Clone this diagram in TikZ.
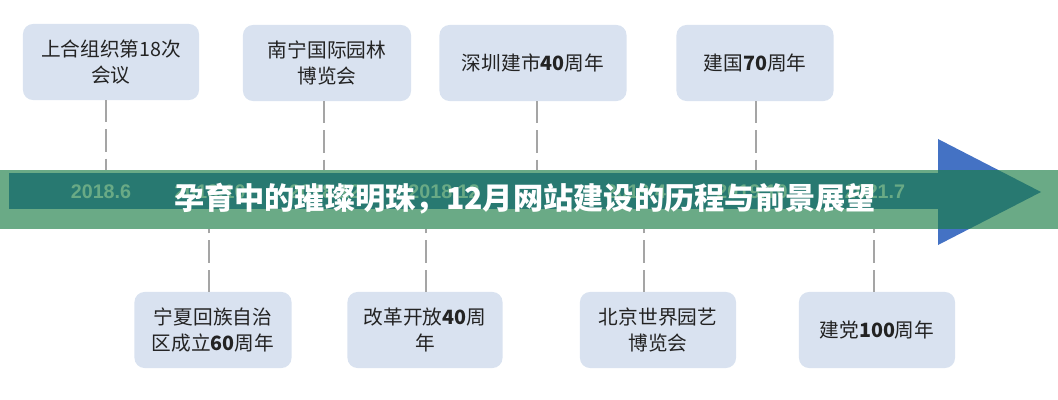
\documentclass[tikz,border=0pt]{standalone}
\usepackage{fontspec}
\usepackage{xcolor}
\usepackage{tikz}
\usetikzlibrary{positioning}
\setmainfont{Liberation Sans}
\newfontfamily\cjk{Noto Sans CJK SC}
\definecolor{myblue}{RGB}{68,114,196}
\definecolor{mygreen}{RGB}{26,125,69}
\definecolor{boxfill}{RGB}{217,226,240}
\definecolor{dashgray}{RGB}{165,165,165}
\definecolor{mydark}{RGB}{35,35,35}
\tikzset{
  eventbox/.style={rectangle, fill=boxfill, rounded corners=0.25cm,
    minimum height=1.9cm, align=center, inner sep=0pt, text=mydark,
    font=\cjk\fontsize{14}{18}\selectfont},
  dashline/.style={draw=dashgray, line width=1.4pt,
    dash pattern=on 0.55cm off 0.18cm},
  datelabel/.style={font=\bfseries\fontsize{14}{14}\selectfont, text=white},
  bandshade/.style={fill=mygreen, fill opacity=0.65},
  titletext/.style={font=\cjk\bfseries\fontsize{21.5}{21.5}\selectfont, text=white}
}

\begin{document}
\begin{tikzpicture}[x=0.025cm, y=-0.025cm]
  \useasboundingbox (0,0) rectangle (1058,400);

  % Events above the time line
  \node[eventbox, minimum width=4.4cm]   (t1) at (111,62) {上合组织第18次\\会议};
  \node[eventbox, minimum width=4.2cm]   (t2) at (327,63) {南宁国际园林\\博览会};
  \node[eventbox, minimum width=4.675cm] (t3) at (533,63) {深圳建市\textbf{40}周年};
  \node[eventbox, minimum width=3.925cm] (t4) at (755,63) {建国\textbf{70}周年};

  % Events below the time line
  \node[eventbox, minimum width=3.925cm] (b1) at (213,330) {宁夏回族自治\\区成立\textbf{60}周年};
  \node[eventbox, minimum width=3.875cm] (b2) at (425,330) {改革开放\textbf{40}周\\年};
  \node[eventbox, minimum width=3.9cm]   (b3) at (658,330) {北京世界园艺\\博览会};
  \node[eventbox, minimum width=3.9cm]   (b4) at (877,330) {建党\textbf{100}周年};

  % Where the dashed lines meet the band
  \coordinate (ct1) at (106,170);
  \coordinate (ct2) at (324,170);
  \coordinate (ct3) at (537,170);
  \coordinate (ct4) at (756,170);
  \coordinate (cb1) at (209,229);
  \coordinate (cb2) at (426,229);
  \coordinate (cb3) at (644,229);
  \coordinate (cb4) at (874,229);

  \foreach \i in {1,...,4} {
    \draw[dashline] (t\i.south -| ct\i) -- (ct\i);
    \draw[dashline] (b\i.north -| cb\i) -- (cb\i);
  }

  % Time arrow
  \fill[myblue] (9,173) rectangle (938,209);
  \fill[myblue] (938,139) -- (1041,192) -- (938,245) -- cycle;

  % Dates on the arrow
  \foreach \x/\d [count=\i] in {101/2018.6, 210/2018.10, 325/2018.12, 444/2018.12,
      636/2019.4, 752/2019.10, 875/2021.7}
    \node[datelabel] (date\i) at (\x,192) {\d};

  % Title band
  \fill[bandshade] (0,170) rectangle (1058,229);
  \node[titletext] (title) at (525,199) {孕育中的璀璨明珠，12月网站建设的历程与前景展望};
\end{tikzpicture}
\end{document}
